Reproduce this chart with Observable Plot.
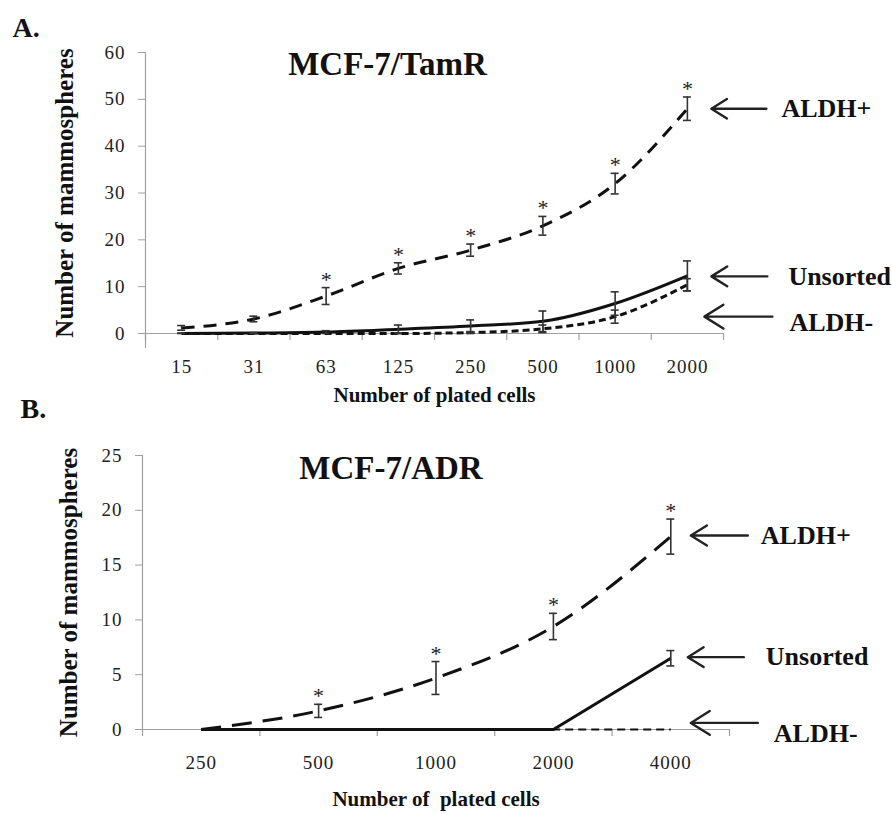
<!DOCTYPE html>
<html><head><meta charset="utf-8">
<script src="https://cdn.jsdelivr.net/npm/d3@7"></script>
<script src="https://cdn.jsdelivr.net/npm/@observablehq/plot@0.6"></script>
<style>
body{margin:0;background:#fff;}
#chart{width:892px;}
svg{display:block}
</style></head><body><div id="chart"></div>
<script>
// ---------- Panel A data: MCF-7/TamR ----------
const cellsA = ["15","31","63","125","250","500","1000","2000"];
const aldhPlusA = [1.2, 3.1, 8.0, 13.9, 17.8, 23.0, 32.0, 48.0];
const aldhPlusErrA = [0.5, 0.6, 1.8, 1.2, 1.3, 2.0, 2.2, 2.5];
const sigA = [false, false, true, true, true, true, true, true];
const unsortedA = [0, 0.1, 0.3, 0.9, 1.6, 2.6, 6.4, 12.3];
const unsortedErrA = [0.1, 0.1, 0.3, 0.9, 1.3, 2.2, 2.5, 3.2];
const aldhMinusA = [0, 0, 0, 0, 0.2, 1.0, 3.6, 10.4];
const aldhMinusErrA = [0, 0, 0, 0.1, 0.2, 0.8, 1.4, 1.3];
const labelNames = ["ALDH+", "Unsorted", "ALDH-"];
const arrowYA = [48, 12.2, 3.6];
const labelYA = [48, 12.2, 2.4];

// ---------- Panel B data: MCF-7/ADR ----------
const cellsB = ["250","500","1000","2000","4000"];
const aldhPlusB = [0, 1.7, 4.7, 9.4, 17.6];
const aldhPlusErrB = [0, 0.6, 1.5, 1.2, 1.6];
const sigB = [false, true, true, true, true];
const unsortedB = [0, 0, 0, 0, 6.5];
const unsortedErrB = [0, 0, 0, 0, 0.7];
const aldhMinusB = [0, 0, 0, 0, 0];
const aldhMinusErrB = [0, 0, 0, 0, 0];
const arrowYB = [17.7, 6.6, 0.6];
const labelYB = [17.7, 6.6, -0.4];

const font = '"Liberation Serif", "Times New Roman", Times, serif';
const axisGray = "#a0a0a0";

function fitText(sel, lengths) {
  sel.each(function() {
    const L = lengths[this.textContent];
    if (L) d3.select(this).attr("textLength", L).attr("lengthAdjust", "spacingAndGlyphs");
  });
}

function makePanel(p) {
  const n = p.cells.length;
  const innerW = p.width - p.ml - p.mr;
  const innerH = p.height - p.mt - p.mb;
  const band = innerW / n;
  const cap = 4 / band;
  const rows = [];
  p.series.forEach(s => s.values.forEach((v, i) =>
    rows.push({series: s.name, i, value: v, err: s.errs[i], sig: s.sig ? s.sig[i] : false})));
  const errRows = rows.filter(r => r.err > 0);
  const capRows = errRows.flatMap(r => [{i: r.i, y: r.value + r.err}, {i: r.i, y: Math.max(0, r.value - r.err)}]);
  const starRows = rows.filter(r => r.sig);
  const boundaries = d3.range(n + 1).map(k => k - 0.5);
  const last = n - 1;
  const annot = labelNames.map((t, k) => ({
    text: t,
    ay: p.arrowY[k], ly: p.labelY[k],
    head: last + p.headPx[k] / band,
    tail: last + p.tailPx[k] / band,
    lx: last + p.labelPx[k] / band
  }));

  const marks = [
    Plot.ruleY([0], {stroke: axisGray, strokeWidth: 1.2, insetLeft: -7}),
    Plot.ruleX([-0.5], {stroke: axisGray, strokeWidth: 1.2, insetBottom: -p.yAxisExt}),
    Plot.tickX(boundaries, {x: d => d, stroke: axisGray, strokeWidth: 1.2, insetTop: innerH, insetBottom: -7}),
  ];
  p.series.forEach(s => {
    marks.push(Plot.line(rows.filter(r => r.series === s.name), {
      x: "i", y: "value", stroke: "#111", strokeWidth: s.width,
      strokeDasharray: s.dash, curve: s.curve, strokeLinecap: "butt"
    }));
  });
  marks.push(
    Plot.ruleX(errRows, {x: "i", y1: d => Math.max(0, d.value - d.err), y2: d => d.value + d.err, stroke: "#333", strokeWidth: 1.6}),
    Plot.ruleY(capRows, {y: "y", x1: d => d.i - cap, x2: d => d.i + cap, stroke: "#333", strokeWidth: 1.6}),
    Plot.text(starRows, {x: "i", y: d => d.value + d.err, text: () => "*", dy: -8, fontSize: 22, fill: "#222"}),
    Plot.arrow(annot, {x1: "tail", y1: "ay", x2: "head", y2: "ay", stroke: "#222", strokeWidth: 2.4, headLength: 14, headAngle: 64}),
    Plot.text(annot, {x: "lx", y: "ly", text: "text", textAnchor: "start", fontSize: 26, fontWeight: "bold", fill: "#111", ariaLabel: "series-label"}),
    Plot.text([p.title], {frameAnchor: "top", dx: p.titleDx, dy: p.titleDy, fontSize: 33, fontWeight: "bold", fill: "#111", ariaLabel: "panel-title"}),
    Plot.text([p.letter], {frameAnchor: "top-left", textAnchor: "start", dx: p.letterDx, dy: p.letterDy, fontSize: 28, fontWeight: "bold", fill: "#111"}),
    Plot.text([p.xLabel], {frameAnchor: "bottom", dy: p.xLabelDy, fontSize: 21, fontWeight: "bold", fill: "#111", ariaLabel: "x-title"}),
    Plot.text(["Number of mammospheres"], {frameAnchor: "left", textAnchor: "middle", rotate: -90, dx: p.yLabelDx, fontSize: 25, fontWeight: "bold", fill: "#111", ariaLabel: "y-title"})
  );

  const svg = Plot.plot({
    width: p.width, height: p.height,
    marginTop: p.mt, marginBottom: p.mb, marginLeft: p.ml, marginRight: p.mr,
    style: {fontFamily: font, fontSize: "19px", color: "#222", overflow: "visible"},
    x: {type: "linear", domain: [-0.5, n - 0.5], ticks: d3.range(n), tickFormat: i => p.cells[i], tickSize: 0, tickPadding: 26, label: null},
    y: {domain: [0, p.yMax], ticks: d3.range(0, p.yMax + 1, p.yStep), tickSize: 7, tickPadding: 13, label: null},
    marks
  });
  const s = d3.select(svg);
  s.selectAll('g[aria-label="y-axis tick"] path, g[aria-label="y-axis tick"]').attr("stroke", axisGray);
  fitText(s.selectAll('g[aria-label="series-label"] text'), p.labelWidths);
  fitText(s.selectAll('g[aria-label="panel-title"] text'), {[p.title]: p.titleWidth});
  fitText(s.selectAll('g[aria-label="x-title"] text'), {[p.xLabel]: p.xLabelWidth});
  fitText(s.selectAll('g[aria-label="y-title"] text'), {"Number of mammospheres": 300});
  s.selectAll('g[aria-label="y-axis tick label"] text, g[aria-label="x-axis tick label"] text').style("letter-spacing", "1px");
  return svg;
}

const line = (name, values, errs, sig, style) => Object.assign({name, values, errs, sig}, style);

const chart = document.getElementById("chart");
chart.appendChild(makePanel({
  cells: cellsA, yMax: 60, yStep: 10,
  width: 892, height: 400, mt: 52, mb: 67, ml: 145, mr: 169,
  series: [
    line("ALDH-", aldhMinusA, aldhMinusErrA, null, {dash: "7,4", width: 3, curve: "monotone-x"}),
    line("ALDH+", aldhPlusA, aldhPlusErrA, sigA, {dash: "13,9", width: 3, curve: "monotone-x"}),
    line("Unsorted", unsortedA, unsortedErrA, null, {dash: null, width: 3, curve: "monotone-x"})
  ],
  arrowY: arrowYA, labelY: labelYA,
  headPx: [24, 24, 17], tailPx: [79, 80, 85], labelPx: [94, 101, 102],
  labelWidths: {"ALDH+": 89, "Unsorted": 102, "ALDH-": 83},
  title: "MCF-7/TamR", titleDx: -47, titleDy: -1, titleWidth: 200,
  letter: "A.", letterDx: -133, letterDy: -35,
  xLabel: "Number of plated cells", xLabelDy: 68, xLabelWidth: 218,
  yLabelDx: -81, yAxisExt: 15
}));
chart.appendChild(makePanel({
  cells: cellsB, yMax: 25, yStep: 5,
  width: 892, height: 414, mt: 55, mb: 85, ml: 142, mr: 163,
  series: [
    line("ALDH-", aldhMinusB, aldhMinusErrB, null, {dash: "8,5", width: 2, curve: "linear"}),
    line("ALDH+", aldhPlusB, aldhPlusErrB, sigB, {dash: "20,11", width: 3, curve: "monotone-x"}),
    line("Unsorted", unsortedB, unsortedErrB, null, {dash: null, width: 3, curve: "linear"})
  ],
  arrowY: arrowYB, labelY: labelYB,
  headPx: [20, 17, 20], tailPx: [77, 73, 87], labelPx: [90, 95, 103],
  labelWidths: {"ALDH+": 92, "Unsorted": 100, "ALDH-": 82},
  title: "MCF-7/ADR", titleDx: -45, titleDy: 0, titleWidth: 182,
  letter: "B.", letterDx: -122, letterDy: -57,
  xLabel: "Number of  plated cells", xLabelDy: 76, xLabelWidth: 220,
  yLabelDx: -74, yAxisExt: 0
}));
</script></body></html>
